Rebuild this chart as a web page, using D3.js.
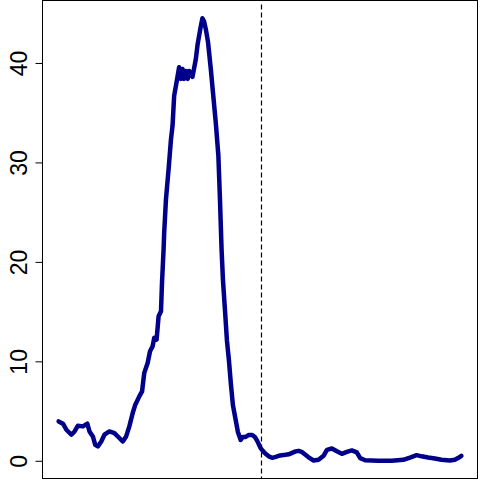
<!DOCTYPE html>
<html>
<head>
<meta charset="utf-8">
<script src="https://cdn.jsdelivr.net/npm/d3@7"></script>
<style>
  body { margin: 0; background: #fff; }
  svg { display: block; }
</style>
</head>
<body>
<div class="chart"></div>
<script>
// values
var xs = [0, 2.2, 3.9, 6.4, 8, 9.7, 12.2, 14.4, 15.5, 17.2, 18.4, 19.7, 21.4, 23, 25.5, 28, 30, 32.2, 33.9, 35.5,
  37.2, 38.5, 40.5, 41.9, 43, 44.7, 45.9, 47.2, 48, 49.2, 50.2, 51.4, 51.9, 52.7, 53, 53.9, 55.2, 56.4, 57.2, 58,
  59.2, 60.5, 61.4, 62.2, 63, 63.9, 64.8, 65.5, 67.2, 68.9, 69.8, 71.3, 72.2, 73, 73.9, 75, 76.4, 77.5, 78.9, 80.2,
  81, 81.8, 82.5, 83.5, 84.5, 85.5, 86.5, 87.5, 88.9, 90, 91.4, 92.5, 93.9, 95.5, 97.2, 98.5, 99.7, 101.4, 102.5, 103.9,
  105.5, 107.2, 109, 110.5, 112, 113.9, 115.5, 117.2, 119, 120.5, 122, 123.9, 125.5, 128, 130.5, 133, 134.7, 137.2, 139.7, 142.2,
  144.7, 147.2, 149.7, 151.4, 153.9, 160.5, 167.2, 173, 176.4, 179.7, 182.2, 185.5, 188.9, 192.2, 196.4, 198.9, 200.5, 202.2];
var ys = [3.96, 3.73, 3.12, 2.62, 2.95, 3.53, 3.46, 3.73, 2.95, 2.45, 1.61, 1.44, 1.94, 2.62, 2.95, 2.79, 2.39, 1.94, 2.45, 3.46,
  4.81, 5.64, 6.48, 6.98, 8.84, 9.84, 11.01, 11.52, 12.36, 12.19, 14.54, 15.04, 17.9, 21.26, 22.94, 26.3, 29.3, 32.3, 33.7, 36.7,
  38.05, 39.57, 38.4, 39.4, 38.4, 39.2, 38.4, 39.2, 38.6, 40.4, 41.9, 43.6, 44.5, 44.2, 43.4, 42.1, 39.4, 37.0, 34.0, 30.7,
  26.3, 21.3, 18.2, 15.2, 12.1, 10.1, 7.7, 5.6, 4.1, 2.9, 2.1, 2.4, 2.4, 2.6, 2.6, 2.4, 2.0, 1.28, 1.0, 0.7,
  0.45, 0.3, 0.4, 0.5, 0.55, 0.6, 0.65, 0.8, 0.95, 1.0, 0.9, 0.6, 0.35, 0.03, 0.1, 0.5, 1.1, 1.24, 0.96, 0.7,
  0.9, 1.04, 0.84, 0.27, 0.05, 0.0, 0.0, 0.1, 0.33, 0.57, 0.45, 0.33, 0.23, 0.1, 0.03, 0.1, 0.27, 0.5];
var yTicks = [0, 10, 20, 30, 40];
var cutX = 101.5;

var width = 480, height = 480;
var box = { left: 42.5, top: 0.5, right: 477.5, bottom: 478.5 };

var data = xs.map(function (x, i) { return { x: x, y: ys[i] }; });

// R style axis range: data extent widened by 4%
function pad(ext) {
  var d = (ext[1] - ext[0]) * 0.04;
  return [ext[0] - d, ext[1] + d];
}

var x = d3.scaleLinear()
  .domain(pad(d3.extent(xs)))
  .range([box.left, box.right]);
var y = d3.scaleLinear()
  .domain(pad(d3.extent(ys)))
  .range([box.bottom, box.top]);

var svg = d3.select(".chart")
  .append("svg")
  .attr("width", width)
  .attr("height", height);

var line = d3.line()
  .x(function (d) { return x(d.x); })
  .y(function (d) { return y(d.y); });

svg.append("path")
  .datum(data)
  .attr("fill", "none")
  .attr("stroke", "#00008b")
  .attr("stroke-width", 4.5)
  .attr("stroke-linejoin", "round")
  .attr("stroke-linecap", "round")
  .attr("d", line);

// dashed cut-off line
svg.append("line")
  .attr("x1", Math.round(x(cutX)) + 0.5)
  .attr("x2", Math.round(x(cutX)) + 0.5)
  .attr("y1", box.top + 4)
  .attr("y2", box.bottom)
  .attr("stroke", "#000")
  .attr("stroke-width", 1.2)
  .attr("stroke-dasharray", "5,3");

// y axis
var yAxis = svg.append("g")
  .attr("transform", "translate(" + box.left + ",0)")
  .call(d3.axisLeft(y).tickValues(yTicks).tickSize(7).tickPadding(0).tickFormat(d3.format("d")));
yAxis.select(".domain").remove();
yAxis.selectAll(".tick line").attr("stroke", "#000");
yAxis.selectAll(".tick text")
  .attr("x", -15.5)
  .attr("dy", 0)
  .attr("text-anchor", "middle")
  .attr("transform", "rotate(-90 -15.5 0)")
  .style("font-family", "'Liberation Sans', Arial, sans-serif")
  .style("font-size", "23px")
  .attr("fill", "#000");

// plot box
svg.append("rect")
  .attr("x", box.left)
  .attr("y", box.top)
  .attr("width", box.right - box.left)
  .attr("height", box.bottom - box.top)
  .attr("fill", "none")
  .attr("stroke", "#000")
  .attr("stroke-width", 1);
</script>
</body>
</html>
